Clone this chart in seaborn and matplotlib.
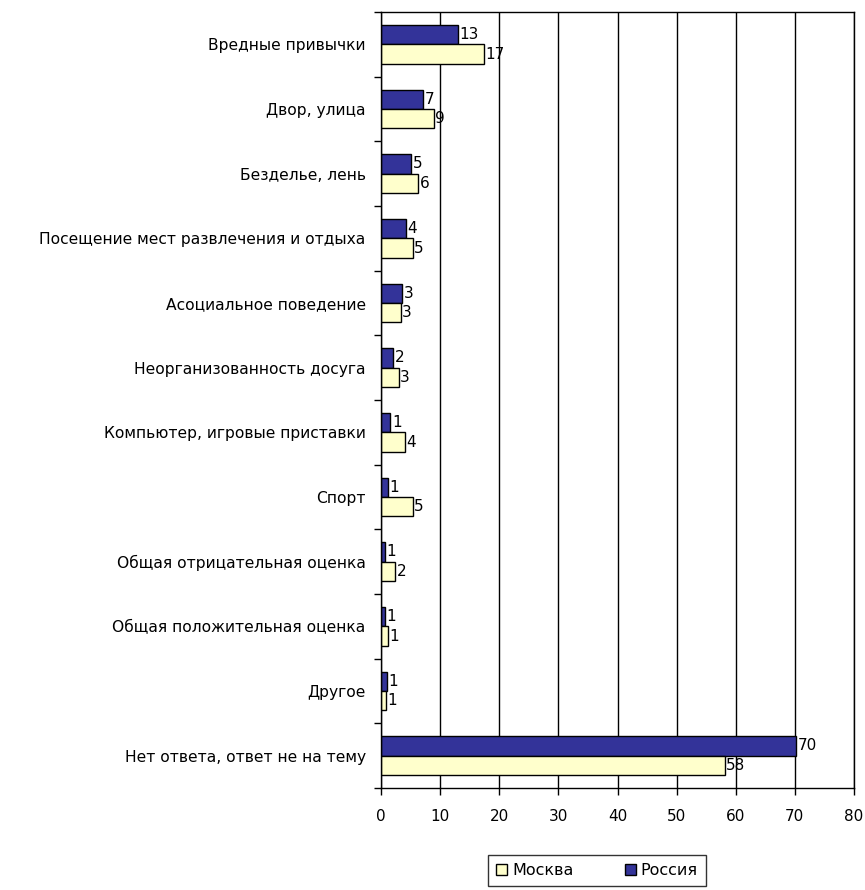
import pandas as pd
import matplotlib
matplotlib.use("Agg")
import matplotlib.pyplot as plt
import seaborn as sns

# данные
categories = [
    "Вредные привычки",
    "Двор, улица",
    "Безделье, лень",
    "Посещение мест развлечения и отдыха",
    "Асоциальное поведение",
    "Неорганизованность досуга",
    "Компьютер, игровые приставки",
    "Спорт",
    "Общая отрицательная оценка",
    "Общая положительная оценка",
    "Другое",
    "Нет ответа, ответ не на тему",
]
russia = [13.0, 7.1, 5.1, 4.2, 3.6, 2.1, 1.6, 1.2, 0.7, 0.7, 1.0, 70.2]
moscow = [17.4, 8.9, 6.3, 5.4, 3.3, 3.0, 4.1, 5.4, 2.4, 1.2, 0.8, 58.1]
russia_labels = ["13", "7", "5", "4", "3", "2", "1", "1", "1", "1", "1", "70"]
moscow_labels = ["17", "9", "6", "5", "3", "3", "4", "5", "2", "1", "1", "58"]
x_ticks = [0, 10, 20, 30, 40, 50, 60, 70, 80]

df = pd.DataFrame({
    "cat": categories * 2,
    "val": russia + moscow,
    "region": ["Россия"] * len(categories) + ["Москва"] * len(categories),
})

sns.set_style("white")
plt.rcParams["font.family"] = ["DejaVu Sans"]
plt.rcParams["text.color"] = "black"
plt.rcParams["xtick.color"] = "black"
plt.rcParams["ytick.color"] = "black"

fig = plt.figure(figsize=(8.65, 8.9), dpi=100)
ax = fig.add_axes([381 / 865, 1 - 788 / 890, 473 / 865, 776 / 890])

colors = {"Россия": "#333399", "Москва": "#FFFFCC"}
sns.barplot(data=df, y="cat", x="val", hue="region", hue_order=["Россия", "Москва"],
            palette=colors, saturation=1, order=categories, width=0.6, orient="h",
            edgecolor="black", linewidth=1.0, legend=False, ax=ax)

# подписи значений
ax.bar_label(ax.containers[0], labels=russia_labels, padding=1, fontsize=11, color="black")
ax.bar_label(ax.containers[1], labels=moscow_labels, padding=1, fontsize=11, color="black")

# оси и сетка
ax.set_xlim(0, 80)
ax.set_xticks(x_ticks)
ax.set_xticklabels([str(t) for t in x_ticks], fontsize=11)
ax.xaxis.grid(True, color="black", linewidth=1.0)
ax.set_axisbelow(True)
ax.set_xlabel("")
ax.set_ylabel("")
ax.tick_params(axis="y", length=0, labelsize=11.2, pad=11)
ax.tick_params(axis="x", length=5, width=1, direction="out", bottom=True, pad=10)
for s in ax.spines.values():
    s.set_color("black")
    s.set_linewidth(1.0)
# засечки между категориями
ax.set_yticks([i + 0.5 for i in range(-1, len(categories))], minor=True)
ax.tick_params(axis="y", which="minor", length=5, width=1, left=True)

# легенда снизу
handles = [ax.containers[1].patches[0], ax.containers[0].patches[0]]
leg = fig.legend(handles, ["Москва", "Россия"], loc="upper center",
                 bbox_to_anchor=(597 / 865, 1 - 855 / 890), ncol=2, frameon=True,
                 fancybox=False, edgecolor="black", fontsize=11.5,
                 handlelength=0.7, handleheight=0.7, handletextpad=0.3,
                 columnspacing=3.2, borderpad=0.5, borderaxespad=0)
leg.get_frame().set_linewidth(1.0)

fig.savefig("out.png", dpi=100)
